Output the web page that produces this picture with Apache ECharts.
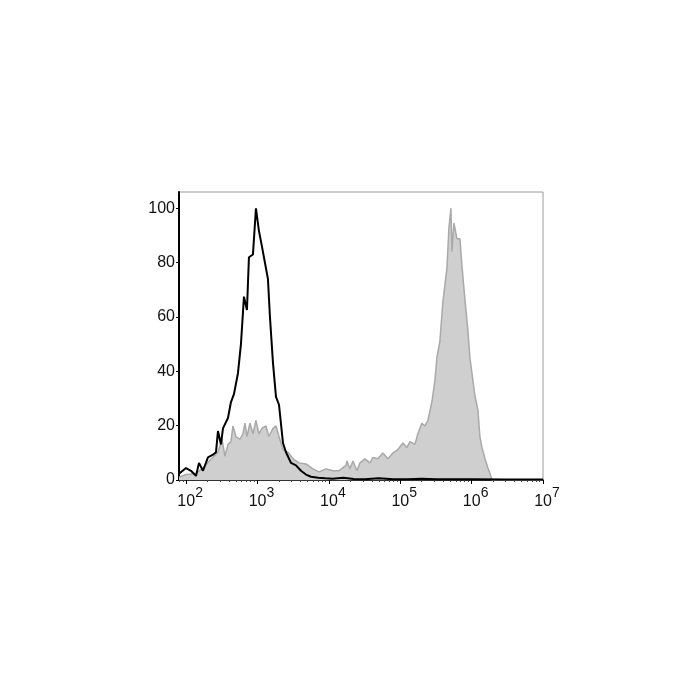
<!DOCTYPE html>
<html>
<head>
<meta charset="utf-8">
<script src="https://cdn.jsdelivr.net/npm/echarts@6/dist/echarts.min.js"></script>
<style>
  html, body { margin: 0; padding: 0; background: #fff; }
  #chart { width: 700px; height: 700px; }
</style>
</head>
<body>
<div id="chart"></div>
<script>
// x positions are log10 of fluorescence intensity
const stainedLog = [1.900, 1.998, 2.068, 2.138, 2.236, 2.334, 2.446, 2.502, 2.544, 2.586, 2.628, 2.656, 2.698, 2.754, 2.796, 2.824, 2.852, 2.894, 2.936, 2.978, 3.020, 3.062, 3.118, 3.160, 3.217, 3.259, 3.301, 3.357, 3.427, 3.497, 3.581, 3.679, 3.777, 3.861, 3.959, 4.057, 4.141, 4.239, 4.253, 4.295, 4.337, 4.393, 4.435, 4.505, 4.575, 4.617, 4.687, 4.757, 4.827, 4.897, 4.967, 5.037, 5.093, 5.135, 5.205, 5.247, 5.303, 5.345, 5.387, 5.443, 5.485, 5.513, 5.555, 5.597, 5.654, 5.682, 5.710, 5.724, 5.752, 5.794, 5.836, 5.864, 5.906, 5.948, 5.976, 6.046, 6.088, 6.116, 6.144, 6.186, 6.228, 6.256, 6.284, 7.0];
const stainedCount = [1.0, 2, 2.2, 2.5, 4.4, 7.3, 10.2, 15, 8.8, 13.1, 14.1, 19.9, 16, 15, 17, 20.9, 16, 20.9, 17, 21.9, 17, 19, 19.9, 16, 19, 19.9, 16, 11.2, 10.2, 7.8, 6.3, 5.9, 4.1, 3, 4.1, 3.4, 3.4, 5.4, 7, 4.1, 7, 3.4, 6.3, 7.8, 6.3, 8.3, 7.8, 9.9, 7.8, 9.9, 11.2, 13.6, 11.9, 14.1, 13.1, 17, 20.9, 19.9, 21.9, 28.7, 36.4, 45, 51, 65.5, 78, 92.7, 100, 84, 94.6, 88.8, 88.8, 79, 66.5, 55, 45, 31, 25.7, 16, 12, 8, 4.4, 2.5, 0, 0];

const isotypeLog = [1.900, 1.998, 2.068, 2.138, 2.180, 2.236, 2.306, 2.376, 2.418, 2.446, 2.488, 2.516, 2.586, 2.628, 2.670, 2.726, 2.768, 2.810, 2.852, 2.880, 2.936, 2.978, 3.020, 3.062, 3.090, 3.118, 3.146, 3.175, 3.217, 3.259, 3.301, 3.357, 3.399, 3.469, 3.539, 3.609, 3.679, 3.75, 3.85, 3.95, 4.05, 4.2, 4.35, 4.5, 4.7, 4.9, 5.1, 5.3, 5.5, 5.7, 6.0, 6.5, 7.0];
const isotypeCount = [2.3, 4.4, 3.4, 1.5, 6.3, 3.4, 8.3, 9.3, 10.2, 18, 13.1, 19, 22.8, 28.7, 31.6, 39.3, 50, 67.5, 62.6, 82, 83, 100, 91.7, 86, 82, 82, 74, 59.7, 43, 30.6, 27.7, 13.6, 10.2, 6.3, 5.4, 3.4, 2, 1.2, 0.8, 0.6, 0.5, 0.8, 0.4, 0.3, 0.6, 0.3, 0.3, 0.5, 0.3, 0.3, 0.3, 0.2, 0.2];

const yTicks = [0, 20, 40, 60, 80, 100];
const xDecades = [2, 3, 4, 5, 6, 7];

// minor ticks at 2..9 x 10^n
const minorTicks = [];
xDecades.forEach(d => {
  for (let m = 2; m <= 9; m++) {
    const v = d - 1 + Math.log10(m);
    if (v > 1.9 && v < 7) minorTicks.push(v);
  }
});

const chart = echarts.init(document.getElementById('chart'));

const font = 'Liberation Sans, Arial, sans-serif';

const option = {
  animation: false,
  grid: {
    left: 179,
    right: 157,
    top: 192,
    bottom: 220,
    show: true,
    borderColor: '#9a9a9a',
    borderWidth: 1
  },
  xAxis: [
    {
      type: 'value',
      min: 1.9,
      max: 7,
      axisLine: { lineStyle: { color: '#000', width: 1.5 } },
      axisTick: { show: true, customValues: xDecades, length: 4, lineStyle: { color: '#000' } },
      splitLine: { show: false },
      axisLabel: {
        customValues: xDecades,
        margin: 6,
        fontFamily: font,
        formatter: v => '{p|}{b|10}{s|' + v + '}',
        rich: {
          p: { width: 8 },
          b: { fontSize: 16, color: '#111', fontFamily: font, verticalAlign: 'bottom', lineHeight: 24 },
          s: { fontSize: 14, color: '#111', fontFamily: font, verticalAlign: 'top', lineHeight: 24 }
        }
      }
    },
    {
      type: 'value',
      min: 1.9,
      max: 7,
      position: 'bottom',
      axisLine: { show: false },
      axisTick: { show: true, customValues: minorTicks, length: 2, lineStyle: { color: '#444' } },
      axisLabel: { show: false },
      splitLine: { show: false }
    }
  ],
  yAxis: {
    type: 'value',
    min: 0,
    max: 106,
    axisLine: { show: true, lineStyle: { color: '#000', width: 2 } },
    axisTick: { show: true, customValues: yTicks, length: 3, lineStyle: { color: '#000' } },
    splitLine: { show: false },
    axisLabel: {
      customValues: yTicks,
      margin: 4,
      fontSize: 16,
      color: '#111',
      fontFamily: font
    }
  },
  series: [
    {
      name: 'stained',
      type: 'line',
      symbol: 'none',
      data: stainedLog.map((x, i) => [x, stainedCount[i]]),
      lineStyle: { color: '#a9a9a9', width: 1.5 },
      areaStyle: { color: '#cfcfcf', opacity: 1 },
      z: 2
    },
    {
      name: 'isotype',
      type: 'line',
      symbol: 'none',
      data: isotypeLog.map((x, i) => [x, isotypeCount[i]]),
      lineStyle: { color: '#000', width: 2 },
      z: 3
    }
  ]
};

chart.setOption(option);
</script>
</body>
</html>
